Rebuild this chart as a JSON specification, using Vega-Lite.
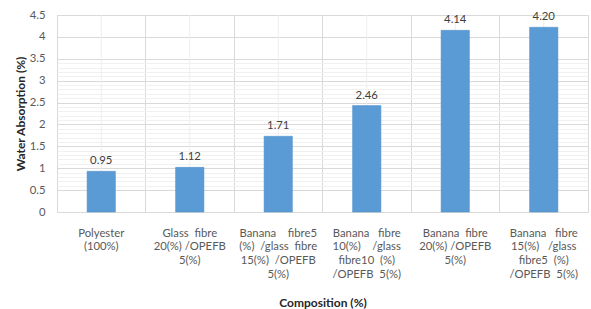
{
  "$schema": "https://vega.github.io/schema/vega-lite/v6.json",
  "autosize": "none",
  "width": 531,
  "height": 197,
  "padding": {"left": 57, "top": 15, "right": 3, "bottom": 97},
  "background": "white",
  "config": {
    "font": "Lato",
    "view": {"stroke": "#d9d9d9"},
    "axis": {"labelFont": "Lato", "titleFont": "Lato"}
  },
  "data": {
    "values": [
      {"composition": "Polyester\n(100%)", "height": 0.93, "label": "0.95"},
      {"composition": "Glass\u00a0 fibre\n20(%) /OPEFB\n5(%)", "height": 1.02, "label": "1.12"},
      {"composition": "Banana\u00a0\u00a0\u00a0 fibre5\n(%)\u00a0 /glass\u00a0 fibre\n15(%)\u00a0 /OPEFB\n5(%)", "height": 1.73, "label": "1.71"},
      {"composition": "Banana\u00a0\u00a0 fibre\n10(%)\u00a0\u00a0\u00a0 /glass\nfibre10\u00a0 (%)\n/OPEFB\u00a0 5(%)", "height": 2.43, "label": "2.46"},
      {"composition": "Banana\u00a0 fibre\n20(%) /OPEFB\n5(%)", "height": 4.15, "label": "4.14"},
      {"composition": "Banana\u00a0\u00a0 fibre\n15(%)\u00a0\u00a0 /glass\nfibre5\u00a0 (%)\n/OPEFB\u00a0 5(%)", "height": 4.22, "label": "4.20"}
    ]
  },
  "resolve": {"scale": {"x": "independent"}, "axis": {"x": "independent"}},
  "layer": [
    {
      "mark": {"type": "rule", "color": "#eeeeee", "strokeWidth": 1},
      "encoding": {
        "x": {
          "field": "composition",
          "type": "nominal",
          "sort": null,
          "scale": {"paddingInner": 0, "paddingOuter": 0},
          "axis": {
            "orient": "bottom",
            "title": null,
            "labels": false,
            "ticks": false,
            "domain": false,
            "grid": true,
            "bandPosition": 0,
            "gridColor": "#d9d9d9",
            "gridWidth": 1
          }
        }
      }
    },
    {
      "encoding": {
        "x": {
          "field": "composition",
          "type": "nominal",
          "sort": null,
          "scale": {"paddingInner": 0.68, "paddingOuter": 0.34},
          "axis": {
            "orient": "bottom",
            "title": "Composition  (%)",
            "titleFontSize": 12,
            "titleFontWeight": "bold",
            "titleColor": "#262626",
            "titleY": 90,
            "titleBaseline": "middle",
            "labelExpr": "split(datum.label, '\\n')",
            "labelAngle": 0,
            "labelAlign": "center",
            "labelBaseline": "top",
            "labelFontSize": 11.3,
            "labelColor": "#595959",
            "labelLineHeight": 13.7,
            "labelPadding": 15,
            "ticks": false,
            "tickSize": 0,
            "domain": false,
            "grid": false
          }
        },
        "y": {
          "field": "height",
          "type": "quantitative",
          "scale": {"domain": [0, 4.5], "nice": false},
          "axis": {
            "title": "Water Absorption  (%)",
            "titleFontSize": 12,
            "titleFontWeight": "bold",
            "titleColor": "#262626",
            "titleX": -37,
            "titleY": 98.5,
            "titleAngle": -90,
            "titleAlign": "center",
            "titleBaseline": "middle",
            "values": [0, 0.5, 0.6, 0.7, 0.8, 0.9, 1, 1.1, 1.2, 1.3, 1.4, 1.5, 1.6, 1.7, 1.8, 1.9, 2, 2.1, 2.2, 2.3, 2.4, 2.5, 2.6, 2.7, 2.8, 2.9, 3, 3.1, 3.2, 3.3, 3.4, 3.5, 4, 4.5],
            "format": ".2~f",
            "labelExpr": "abs(datum.value*2 - round(datum.value*2)) < 0.001 ? datum.label : ''",
            "labelFontSize": 11.3,
            "labelColor": "#595959",
            "labelPadding": 12,
            "ticks": false,
            "tickSize": 0,
            "domain": false,
            "grid": true,
            "gridColor": {
              "condition": {"test": "abs(datum.value*2 - round(datum.value*2)) < 0.001", "value": "#d9d9d9"},
              "value": "#f1f1f1"
            },
            "gridWidth": 1
          }
        }
      },
      "layer": [
        {
          "mark": {"type": "bar", "color": "#5b9bd5", "stroke": "#4a8cc8", "strokeWidth": 0.5}
        },
        {
          "mark": {"type": "text", "baseline": "bottom", "dy": -5, "fontSize": 11.3, "color": "#404040", "font": "Lato"},
          "encoding": {
            "text": {"field": "label"}
          }
        }
      ]
    }
  ]
}
